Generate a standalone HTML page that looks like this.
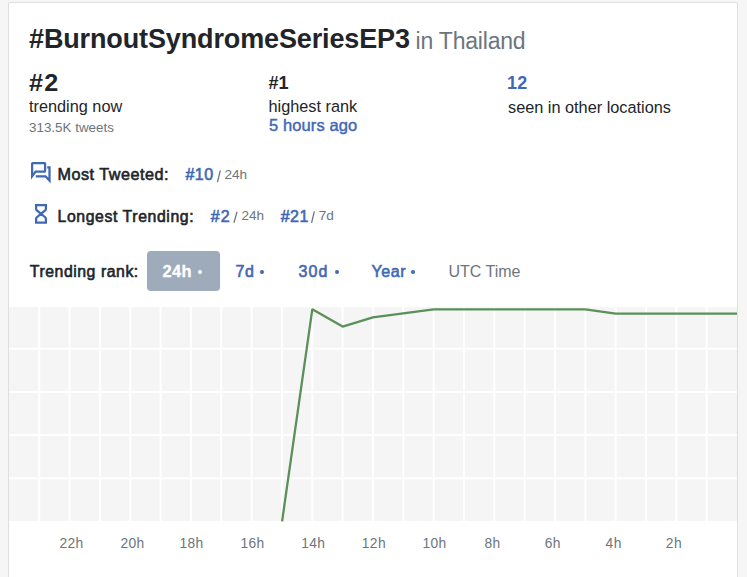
<!DOCTYPE html>
<html><head><meta charset="utf-8">
<style>
html,body{margin:0;padding:0;}
body{width:747px;height:577px;background:#f6f6f6;position:relative;overflow:hidden;font-family:"Liberation Sans",sans-serif;color:#212529;}
.card{position:absolute;left:8px;top:2px;width:728px;height:600px;background:#fff;border:1px solid #dedede;border-radius:2px;}
.t{position:absolute;white-space:nowrap;line-height:1;}
.b{font-weight:bold;}
.sb{font-weight:normal;-webkit-text-stroke-width:0.6px;}
.blue{color:#3f69b5;}
.gray{color:#6c757d;}
.dot{position:absolute;width:4px;height:4px;border-radius:50%;background:#3f69b5;}
</style></head><body>
<div class="card"></div>

<div id="title" class="t b" style="left:29px;top:26px;font-size:27px;letter-spacing:-0.13px;">#BurnoutSyndromeSeriesEP3</div>
<div id="thai" class="t gray" style="left:415.5px;top:29.5px;font-size:23px;letter-spacing:-0.2px;">in Thailand</div>

<div id="n2" class="t b" style="left:28.5px;top:71.5px;font-size:23.5px;letter-spacing:1.2px;transform:scaleX(1.07);transform-origin:0 0;">#2</div>
<div id="tn" class="t" style="left:29px;top:98px;font-size:16.3px;">trending now</div>
<div id="tw" class="t gray" style="left:29px;top:121px;font-size:13.4px;">313.5K tweets</div>

<div id="n1" class="t b" style="left:268.5px;top:74px;font-size:18px;letter-spacing:0px;">#1</div>
<div id="hr" class="t" style="left:268.5px;top:98px;font-size:16.3px;">highest rank</div>
<div id="ha" class="t blue" style="left:269px;top:117px;font-size:16.5px;letter-spacing:0.1px;-webkit-text-stroke:0.45px #3f69b5;">5 hours ago</div>

<div id="n12" class="t b blue" style="left:507px;top:74px;font-size:18px;letter-spacing:0.3px;">12</div>
<div id="so" class="t" style="left:508px;top:98.5px;font-size:16.3px;">seen in other locations</div>

<svg style="position:absolute;left:0;top:0;" width="747" height="577">
 <g fill="none" stroke="#3f69b5" stroke-width="2.25">
  <path d="M32.1 176.3 V163.6 Q32.1 163.1 32.6 163.1 H44.6 Q45.1 163.1 45.1 163.6 V171 Q45.1 171.5 44.6 171.5 H35.6 Z" stroke-linejoin="miter" stroke-miterlimit="10"/>
  <path d="M47.2 167.3 H49.5 V180.6 L45.5 176.3 H35.8" stroke-linejoin="miter" stroke-miterlimit="10"/>
  <path d="M36.1 205 H45.9 V209 Q45.9 209.6 45.4 210.1 L41 213.8 L45.4 217.5 Q45.9 218 45.9 218.6 V222.6 H36.1 V218.6 Q36.1 218 36.6 217.5 L41 213.8 L36.6 210.1 Q36.1 209.6 36.1 209 Z" stroke-linejoin="miter"/>
 </g>
</svg>
<div id="mt" class="t sb" style="left:57.5px;top:166px;font-size:16.2px;letter-spacing:0.5px;">Most Tweeted:</div>
<div id="mt10" class="t sb blue" style="left:185.5px;top:167px;font-size:16px;letter-spacing:0.45px;">#10</div>
<div id="mt24" class="t gray" style="left:224.4px;top:168px;font-size:13.6px;">24h</div>

<div id="lt" class="t sb" style="left:57.5px;top:209px;font-size:15.8px;letter-spacing:0.6px;">Longest Trending:</div>
<div id="lt2" class="t sb blue" style="left:210.7px;top:208.5px;font-size:16px;letter-spacing:1.1px;">#2</div>
<div id="lt24" class="t gray" style="left:241.4px;top:209px;font-size:13.6px;">24h</div>
<div id="lt21" class="t sb blue" style="left:280.7px;top:208.5px;font-size:16px;letter-spacing:0.5px;">#21</div>
<div id="lt7" class="t gray" style="left:318.8px;top:209px;font-size:13.6px;">7d</div>
<svg style="position:absolute;left:0;top:0;" width="747" height="577"><g stroke="#6c757d" stroke-width="1.3" stroke-linecap="round"><line x1="217.6" y1="181.6" x2="220.2" y2="170.9"/><line x1="234.1" y1="222.3" x2="236.9" y2="212.1"/><line x1="311.7" y1="222.3" x2="314.2" y2="211.8"/></g></svg>

<div id="tr" class="t sb" style="left:29.8px;top:264px;font-size:15.8px;letter-spacing:0.55px;">Trending rank:</div>
<div style="position:absolute;left:147px;top:251px;width:73px;height:39.5px;background:#9eabbb;border-radius:4px;"></div>
<div id="b24" class="t b" style="left:162.5px;top:263px;font-size:16.4px;letter-spacing:0.4px;color:#fff;-webkit-text-stroke:0.3px #fff;">24h</div>
<div class="dot" style="left:198px;top:270px;background:#fff;"></div>
<div id="b7" class="t sb blue" style="left:235.5px;top:264px;font-size:16px;letter-spacing:0.6px;">7d</div>
<div class="dot" style="left:260px;top:270px;"></div>
<div id="b30" class="t sb blue" style="left:298.5px;top:264px;font-size:16px;letter-spacing:1.1px;">30d</div>
<div class="dot" style="left:334.5px;top:270px;"></div>
<div id="by" class="t sb blue" style="left:371.5px;top:264px;font-size:16px;letter-spacing:0.6px;">Year</div>
<div class="dot" style="left:411px;top:270px;"></div>
<div id="utc" class="t gray" style="left:448.5px;top:264px;font-size:16px;">UTC Time</div>

<svg id="chart" style="position:absolute;left:0;top:0;" width="747" height="577">

 <rect x="9" y="307" width="728" height="214" fill="#f5f5f5"/>
 <g stroke="#fff" stroke-width="2">
  <line x1="39.20" y1="307" x2="39.20" y2="521"/>
  <line x1="69.54" y1="307" x2="69.54" y2="521"/>
  <line x1="99.88" y1="307" x2="99.88" y2="521"/>
  <line x1="130.22" y1="307" x2="130.22" y2="521"/>
  <line x1="160.56" y1="307" x2="160.56" y2="521"/>
  <line x1="190.90" y1="307" x2="190.90" y2="521"/>
  <line x1="221.24" y1="307" x2="221.24" y2="521"/>
  <line x1="251.58" y1="307" x2="251.58" y2="521"/>
  <line x1="281.92" y1="307" x2="281.92" y2="521"/>
  <line x1="312.26" y1="307" x2="312.26" y2="521"/>
  <line x1="342.60" y1="307" x2="342.60" y2="521"/>
  <line x1="372.94" y1="307" x2="372.94" y2="521"/>
  <line x1="403.28" y1="307" x2="403.28" y2="521"/>
  <line x1="433.62" y1="307" x2="433.62" y2="521"/>
  <line x1="463.96" y1="307" x2="463.96" y2="521"/>
  <line x1="494.30" y1="307" x2="494.30" y2="521"/>
  <line x1="524.64" y1="307" x2="524.64" y2="521"/>
  <line x1="554.98" y1="307" x2="554.98" y2="521"/>
  <line x1="585.32" y1="307" x2="585.32" y2="521"/>
  <line x1="615.66" y1="307" x2="615.66" y2="521"/>
  <line x1="646.00" y1="307" x2="646.00" y2="521"/>
  <line x1="676.34" y1="307" x2="676.34" y2="521"/>
  <line x1="706.68" y1="307" x2="706.68" y2="521"/>
  <line x1="9" y1="348.7" x2="737" y2="348.7"/>
  <line x1="9" y1="391.9" x2="737" y2="391.9"/>
  <line x1="9" y1="435.0" x2="737" y2="435.0"/>
  <line x1="9" y1="478.2" x2="737" y2="478.2"/>
 </g>
 <g font-family="Liberation Sans" font-size="13.8" fill="#6c757d" text-anchor="middle" letter-spacing="0.4">
  <text x="71.5" y="547.5">22h</text>
  <text x="132.6" y="547.5">20h</text>
  <text x="191.6" y="547.5">18h</text>
  <text x="252.5" y="547.5">16h</text>
  <text x="313.3" y="547.5">14h</text>
  <text x="373.9" y="547.5">12h</text>
  <text x="434.6" y="547.5">10h</text>
  <text x="492.5" y="547.5">8h</text>
  <text x="552.8" y="547.5">6h</text>
  <text x="613.7" y="547.5">4h</text>
  <text x="673.9" y="547.5">2h</text>
 </g>
 <path d="M282.1 521.3 L312.3 309.3 L342.6 326.6 L372.9 317.4 L433.6 309.3 L585.3 309.3 L615.7 313.6 L737.0 313.6" fill="none" stroke="#5a905a" stroke-width="2.3" stroke-linejoin="round"/>
</svg>
</body></html>
